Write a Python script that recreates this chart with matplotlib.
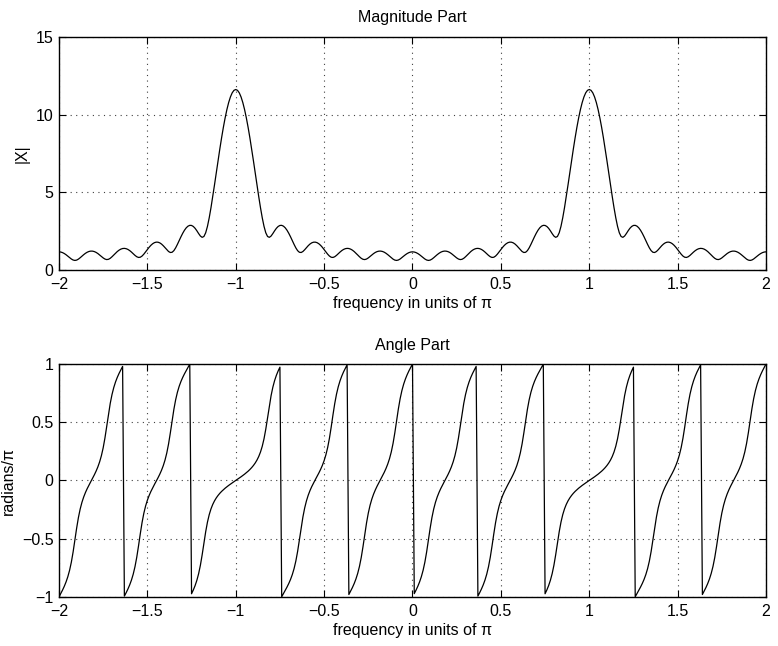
import numpy as np
import matplotlib
matplotlib.use('Agg')
from matplotlib import pyplot as plt

# sequence x(n) = (-0.9)^n for -5 <= n <= 5
n = [-5, -4, -3, -2, -1, 0, 1, 2, 3, 4, 5]
x = [-1.69351, 1.52416, -1.37174, 1.23457, -1.11111, 1.0,
     -0.9, 0.81, -0.729, 0.6561, -0.59049]

# frequency samples k = -200:200, w = (pi/100)*k
k = np.arange(-200, 201)

xticks = [-2, -1.5, -1, -0.5, 0, 0.5, 1, 1.5, 2]
xticklabels = ['\u22122', '\u22121.5', '\u22121', '\u22120.5', '0', '0.5', '1', '1.5', '2']
mag_yticks = [0, 5, 10, 15]
mag_yticklabels = ['0', '5', '10', '15']
ang_yticks = [-1, -0.5, 0, 0.5, 1]
ang_yticklabels = ['\u22121', '\u22120.5', '0', '0.5', '1']

plt.rcParams['font.family'] = ['Liberation Sans', 'DejaVu Sans']
FS = 11.5


def dtft(x, n, k):
    w = (np.pi / 100) * k
    base = np.exp(-1j * np.pi / 100)
    X = np.array(x) @ (base ** np.outer(np.array(n), k))
    return w, X


def style_axes(ax, yticks, yticklabels, ylim):
    ax.set_xlim(-2, 2)
    ax.set_ylim(*ylim)
    ax.set_xticks(xticks)
    ax.set_xticklabels(xticklabels, fontsize=FS)
    ax.set_yticks(yticks)
    ax.set_yticklabels(yticklabels, fontsize=FS)
    ax.tick_params(direction='in', top=True, right=True, length=5, width=0.8)
    ax.tick_params(axis='x', pad=5)
    ax.tick_params(axis='y', pad=4)
    ax.grid(True, color='0.25', linestyle=(0, (1, 4)), linewidth=0.8)
    for s in ax.spines.values():
        s.set_linewidth(1.0)
    ax.set_xlabel('frequency in units of \u03c0', fontsize=FS, labelpad=3)


w, X = dtft(x, n, k)
magX = np.abs(X)
angX = np.angle(X)

fig = plt.figure(figsize=(7.78, 6.46), dpi=100)

ax1 = fig.add_axes([0.0758, 0.582, 0.9088, 0.3607])
ax1.plot(w / np.pi, magX, color='black', linewidth=0.9)
style_axes(ax1, mag_yticks, mag_yticklabels, (0, 15))
ax1.set_ylabel('|X|', fontsize=FS)
ax1.set_title('Magnitude Part', fontsize=FS, pad=11)

ax2 = fig.add_axes([0.0758, 0.0759, 0.9088, 0.3607])
ax2.plot(w / np.pi, angX / np.pi, color='black', linewidth=0.9)
style_axes(ax2, ang_yticks, ang_yticklabels, (-1, 1))
ax2.set_ylabel('radians/\u03c0', fontsize=FS)
ax2.set_title('Angle Part', fontsize=FS, pad=10)

fig.savefig('out.png', dpi=100)
